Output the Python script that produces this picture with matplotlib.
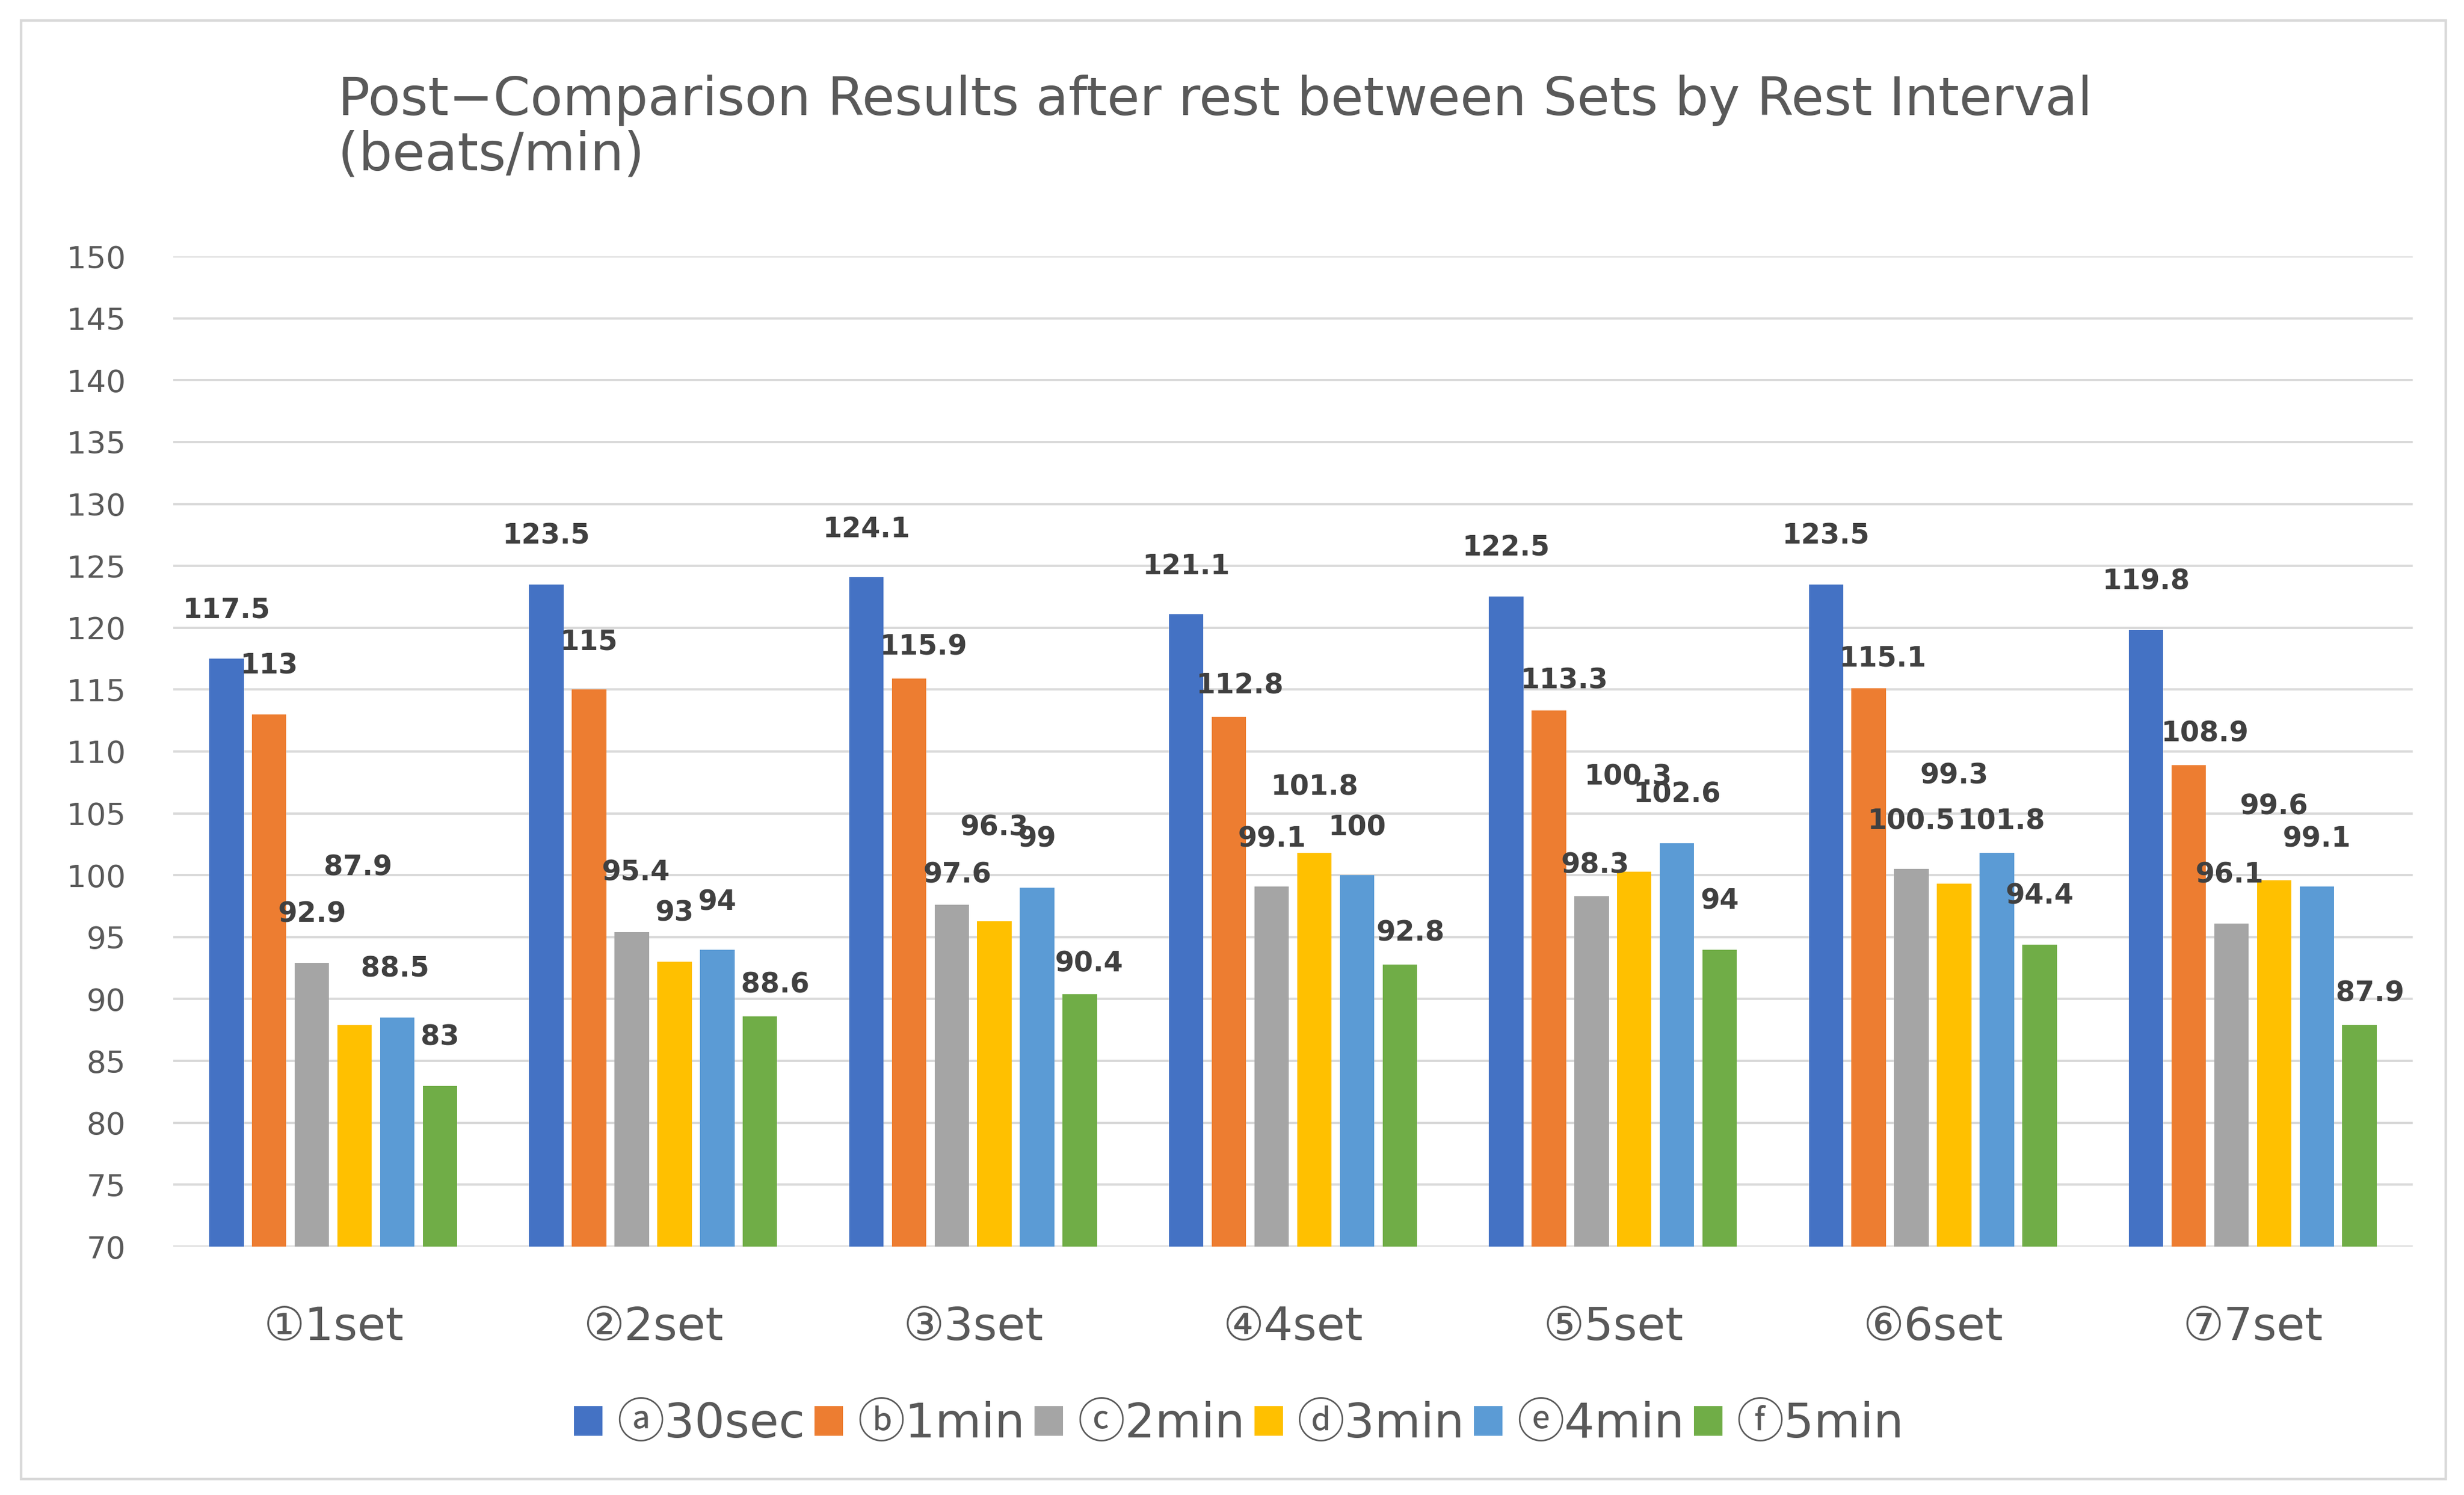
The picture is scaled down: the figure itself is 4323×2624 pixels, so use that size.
import matplotlib
matplotlib.use("Agg")
import matplotlib.pyplot as plt
from matplotlib.patches import Rectangle, Patch
import numpy as np

# ---------------- data ----------------
categories = ["①1set", "②2set", "③3set", "④4set", "⑤5set", "⑥6set", "⑦7set"]
series_names = ["ⓐ30sec", "ⓑ1min", "ⓒ2min", "ⓓ3min", "ⓔ4min", "ⓕ5min"]

a_30sec = [117.5, 123.5, 124.1, 121.1, 122.5, 123.5, 119.8]
b_1min = [113, 115, 115.9, 112.8, 113.3, 115.1, 108.9]
c_2min = [92.9, 95.4, 97.6, 99.1, 98.3, 100.5, 96.1]
d_3min = [87.9, 93, 96.3, 101.8, 100.3, 99.3, 99.6]
e_4min = [88.5, 94, 99, 100, 102.6, 101.8, 99.1]
f_5min = [83, 88.6, 90.4, 92.8, 94, 94.4, 87.9]

yticks = list(range(70, 151, 5))

# label placement (hand-moved data labels in the original chart), kept apart from the data
label_dy = [
    [4.1, 4.1, 4.0, 4.0, 4.1, 4.1, 4.1],
    [4.1, 4.0, 2.7, 2.7, 2.6, 2.6, 2.7],
    [4.1, 5.0, 2.6, 4.0, 2.7, 4.0, 4.1],
    [12.9, 4.1, 7.7, 5.5, 7.8, 8.9, 6.1],
    [4.1, 4.0, 4.1, 4.0, 4.1, 2.7, 4.0],
    [4.1, 2.7, 2.6, 2.7, 4.1, 4.1, 2.7],
]
label_dx = [
    [0, 0, 0, 0, 0, 0, 0],
    [0, 0, 0.046, 0.035, 0.048, 0.044, 0.051],
    [0, 0.013, 0.017, 0, 0.012, 0, -0.006],
    [0.011, 0, 0, 0, -0.02, 0, 0],
    [-0.007, 0, 0, 0, 0, 0.014, 0],
    [0, 0.048, 0.028, 0.033, 0, 0, 0.032],
]

colors = ["#4472C4", "#ED7D31", "#A5A5A5", "#FFC000", "#5B9BD5", "#70AD47"]

# ---------------- figure ----------------
W, H = 4323, 2624
fig = plt.figure(figsize=(W / 100, H / 100), dpi=100)
fig.patch.set_facecolor("white")

# outer frame
fig.patches.append(Rectangle((37 / W, 1 - 2596 / H), (4291 - 37) / W, (2596 - 36) / H,
                             transform=fig.transFigure, fill=False,
                             edgecolor="#D9D9D9", linewidth=3.2))

ax = fig.add_axes([304 / W, 1 - 2188 / H, (4233 - 304) / W, (2188 - 450) / H])

all_series = [a_30sec, b_1min, c_2min, d_3min, e_4min, f_5min]
x = np.arange(len(categories))
pitch = 0.1335
bw = 0.1077
for j, (vals, col, name) in enumerate(zip(all_series, colors, series_names)):
    xs = x + (j - 2.5) * pitch
    ax.bar(xs, np.array(vals) - 70, bottom=70, width=bw, color=col, label=name, zorder=3)
    for i, v in enumerate(vals):
        ax.annotate(f"{v:g}", xy=(xs[i] + label_dx[j][i], v + label_dy[j][i]),
                    xytext=(0, -12.6), textcoords="offset points",
                    ha="center", va="baseline", fontsize=35, fontweight="bold",
                    color="#404040", family="DejaVu Sans", zorder=5)

ax.set_xlim(-0.5, len(categories) - 0.5)
ax.set_ylim(70, 150)
ax.set_yticks(yticks)
ax.yaxis.grid(True, color="#D9D9D9", linewidth=2.9, zorder=0)
ax.set_axisbelow(True)
for s in ax.spines.values():
    s.set_visible(False)
ax.tick_params(axis="y", length=0, pad=60, labelsize=39, labelcolor="#595959")
ax.set_xticks(x)
ax.set_xticklabels(categories, family=["DejaVu Sans", "Noto Sans CJK KR"],
                   fontsize=58, color="#595959")
ax.tick_params(axis="x", length=0, pad=118)
for t in ax.get_xticklabels():
    t.set_va("baseline")

# title
fig.text(593 / W, 1 - 202 / H, "Post−Comparison Results after rest between Sets by Rest Interval",
         fontsize=67, color="#595959", ha="left", va="baseline", family="DejaVu Sans")
fig.text(593 / W, 1 - 298 / H, "(beats/min)",
         fontsize=67, color="#595959", ha="left", va="baseline", family="DejaVu Sans")

# legend
handles = [Patch(facecolor=c, edgecolor="none") for c in colors]
fs = 60
leg = fig.legend(handles, series_names, loc="center", bbox_to_anchor=(2174 / W, 1 - 2500 / H),
                 ncol=6, frameon=False, handlelength=0.6, handleheight=0.58,
                 handletextpad=0.3, columnspacing=0.2, borderaxespad=0, borderpad=0,
                 prop={"family": ["DejaVu Sans", "Noto Sans CJK KR"], "size": fs})
for t in leg.get_texts():
    t.set_color("#595959")

fig.savefig("out.png", dpi=100)
